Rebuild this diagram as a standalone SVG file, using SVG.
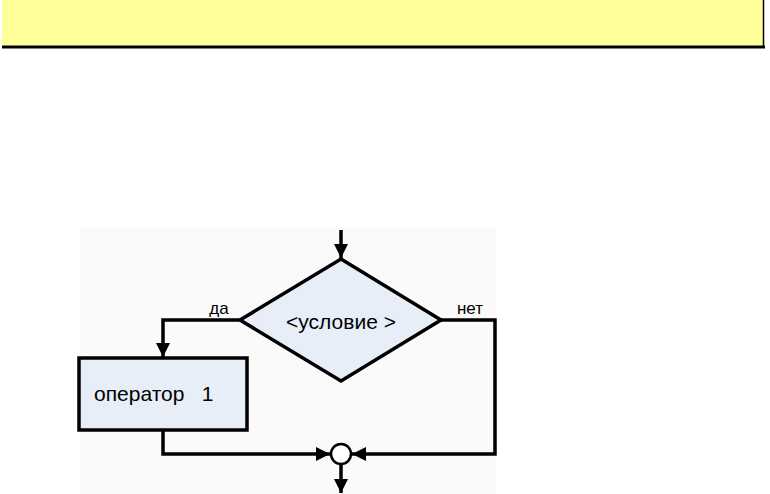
<svg xmlns="http://www.w3.org/2000/svg" width="770" height="494" viewBox="0 0 770 494">
<defs>
<marker id="ah" viewBox="0 0 10 10" refX="10" refY="5" markerWidth="4" markerHeight="4" orient="auto" markerUnits="strokeWidth"><path d="M0,0L10,5L0,10z" fill="#000"/></marker>
<style>
.ln{fill:none;stroke:#000;stroke-width:3.5}
.sh{fill:#e8eef8;stroke:#000;stroke-width:3.5}
text{font-family:"Liberation Sans",Arial,sans-serif;fill:#000}
</style>
</defs>
<rect x="0" y="0" width="770" height="494" fill="#fff"/>
<g id="header">
<rect x="2" y="-2" width="762" height="49" fill="#ffff99" stroke="none"/>
<line x1="763.5" y1="0" x2="763.5" y2="48" stroke="#000" stroke-width="1.5"/>
<line x1="2" y1="47" x2="765" y2="47" stroke="#000" stroke-width="3"/>
</g>
<rect x="80" y="228" width="416" height="266" fill="#fafafa"/>
<g id="connectors">
<path class="ln" d="M341,230V258" marker-end="url(#ah)"/>
<path class="ln" d="M240,320H163V357" marker-end="url(#ah)"/>
<path class="ln" d="M441,320H495V454H352" marker-end="url(#ah)"/>
<path class="ln" d="M163,430V454H330" marker-end="url(#ah)"/>
<path class="ln" d="M341,464V493" marker-end="url(#ah)"/>
</g>
<g id="cond">
<polygon class="sh" points="341,259 441,320 341,381 240,320"/>
<text x="341" y="329" font-size="21" text-anchor="middle">&lt;условие &gt;</text>
</g>
<g id="op1">
<rect class="sh" x="79" y="358" width="168" height="72"/>
<text x="94" y="401" font-size="21" xml:space="preserve">оператор   1</text>
</g>
<g id="merge"><circle cx="341" cy="454" r="10" fill="#fff" stroke="#000" stroke-width="2.5"/></g>
<text x="219" y="314" font-size="17" text-anchor="middle">да</text>
<text x="470" y="314" font-size="17" text-anchor="middle">нет</text>
</svg>
